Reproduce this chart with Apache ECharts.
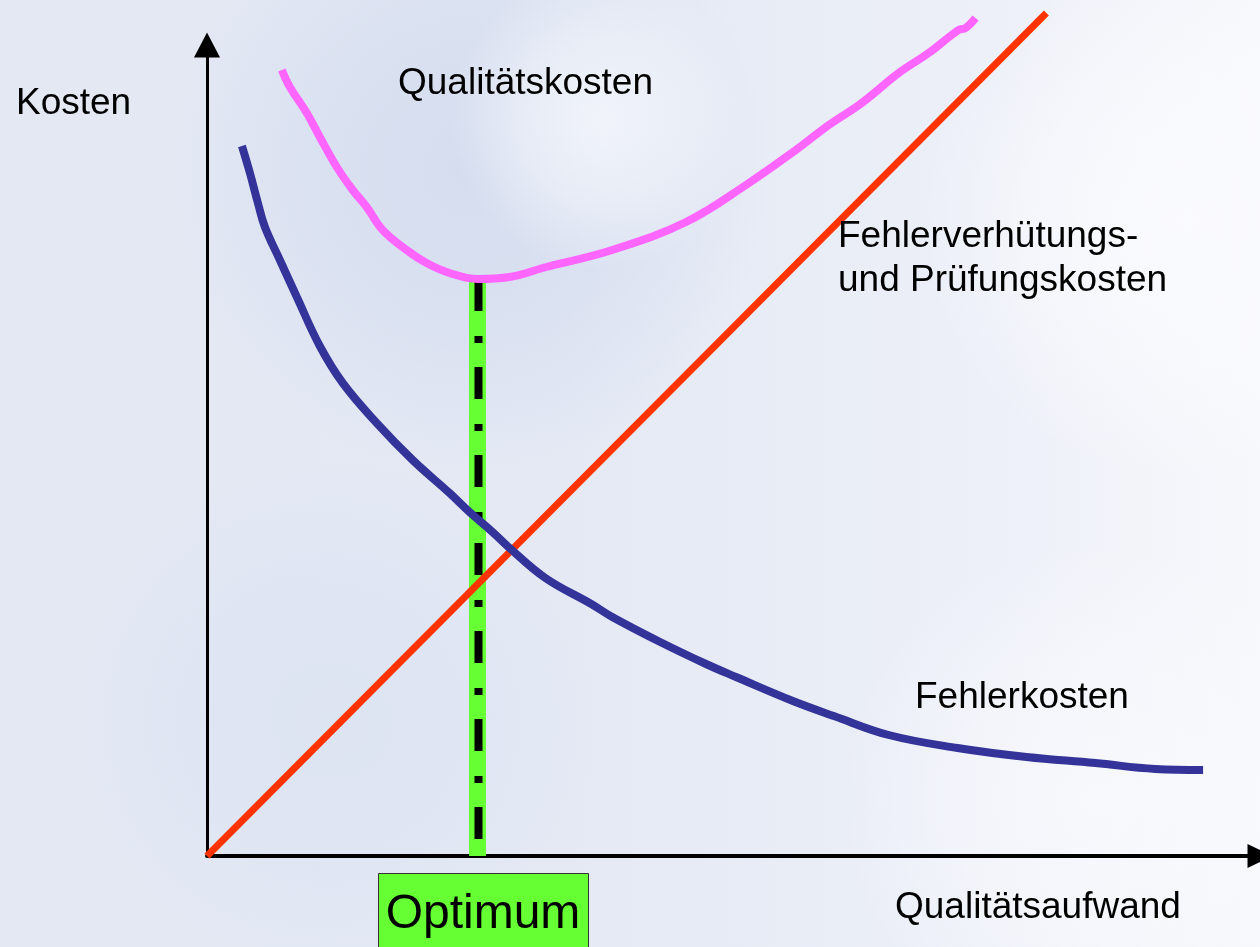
<!DOCTYPE html>
<html>
<head>
<meta charset="utf-8">
<title>Qualitätskosten</title>
<script src="https://cdn.jsdelivr.net/npm/echarts@6/dist/echarts.min.js"></script>
<style>
    html, body { margin: 0; padding: 0; }
    #main { width: 1260px; height: 947px; }
</style>
</head>
<body>
<div id="main"></div>
<script>
    // Qualitätsaufwand (x) / Kosten (y)
    var pruefKosten = [[0, 0], [84.1, 84.3]];

    var fehlerKosten = [
        [3.5, 71.0], [4.3, 68.3], [5.1, 65.3], [5.8, 62.9], [7.3, 59.6],
        [9.0, 55.9], [11.3, 51.0], [13.6, 47.3], [17.0, 43.3], [20.6, 39.6],
        [24.3, 36.3], [26.3, 34.4], [28.6, 32.4], [30.2, 30.9], [33.9, 27.8],
        [38.5, 25.2], [40.6, 23.9], [45.4, 21.4], [50.0, 19.2], [53.0, 17.9],
        [58.7, 15.5], [62.8, 14.0], [68.3, 12.1], [75.2, 10.8], [82.1, 9.9],
        [89.0, 9.3], [95.0, 8.7], [99.8, 8.6]
    ];

    var qualitaetsKosten = [
        [7.5, 78.6], [8.3, 76.9], [10.0, 74.3], [11.3, 71.9], [13.0, 68.9],
        [14.6, 66.6], [16.0, 64.9], [17.6, 62.6], [20.0, 60.6], [22.0, 59.3],
        [24.3, 58.3], [27.1, 57.7], [30.3, 57.9], [34.0, 58.9], [40.6, 60.6],
        [48.0, 63.4], [54.0, 67.1], [59.0, 70.6], [62.3, 73.1], [65.6, 75.3],
        [69.3, 78.3], [72.3, 80.3], [75.3, 82.6], [76.0, 82.8], [77.0, 83.8]
    ];

    var optimum = [27.1, 57.7];

    var font = '"Liberation Sans", Arial, sans-serif';

    var myChart = echarts.init(document.getElementById('main'));

    function label(text, x, y, size) {
        return {
            type: 'text',
            x: x,
            y: y,
            z: 20,
            style: {
                text: text,
                fill: '#000',
                fontSize: size || 37,
                fontFamily: font,
                textVerticalAlign: 'middle'
            }
        };
    }

    // soft blurred blob for the faded picture behind the chart
    function blob(cx, cy, r, color) {
        return {
            type: 'circle',
            z: -10,
            silent: true,
            shape: {cx: cx, cy: cy, r: r},
            style: {
                fill: new echarts.graphic.RadialGradient(0.5, 0.5, 0.5, [
                    {offset: 0, color: color},
                    {offset: 0.55, color: color.replace(/[\d.]+\)$/, function (a) { return (parseFloat(a) * 0.6) + ')'; })},
                    {offset: 1, color: color.replace(/[\d.]+\)$/, '0)')}
                ])
            }
        };
    }

    option = {
        animation: false,
        backgroundColor: new echarts.graphic.LinearGradient(0, 0, 1, 0, [
            {offset: 0, color: '#e3e8f3'},
            {offset: 0.45, color: '#e4e9f4'},
            {offset: 0.8, color: '#edf0f8'},
            {offset: 1, color: '#f7f8fc'}
        ]),
        grid: {
            left: 207,
            top: 45,
            width: 1055,
            height: 811
        },
        xAxis: {
            type: 'value',
            min: 0,
            max: 105.5,
            axisLine: {
                show: true,
                symbol: ['none', 'triangle'],
                symbolSize: [24, 25],
                lineStyle: {color: '#000', width: 4}
            },
            axisTick: {show: false},
            axisLabel: {show: false},
            splitLine: {show: false}
        },
        yAxis: {
            type: 'value',
            min: 0,
            max: 81.1,
            axisLine: {
                show: true,
                symbol: ['none', 'triangle'],
                symbolSize: [26, 25],
                lineStyle: {color: '#000', width: 3}
            },
            axisTick: {show: false},
            axisLabel: {show: false},
            splitLine: {show: false}
        },
        graphic: [
            blob(470, 170, 300, 'rgba(200,211,235,0.55)'),
            blob(600, 120, 150, 'rgba(246,248,252,0.8)'),
            blob(1180, 220, 260, 'rgba(252,252,255,0.8)'),
            blob(1100, 800, 260, 'rgba(250,251,254,0.7)'),
            blob(330, 720, 260, 'rgba(214,223,240,0.5)'),
            label('Kosten', 16, 104),
            label('Qualitätskosten', 398, 84),
            label('Fehlerverhütungs-', 838, 237),
            label('und Prüfungskosten', 838, 281),
            label('Fehlerkosten', 915, 698),
            label('Qualitätsaufwand', 895, 908),
            {
                type: 'rect',
                z: 20,
                shape: {x: 378.5, y: 873.5, width: 210, height: 80},
                style: {fill: '#66ff33', stroke: '#333', lineWidth: 1}
            },
            {
                type: 'text',
                x: 483,
                y: 915,
                z: 21,
                style: {
                    text: 'Optimum',
                    fill: '#000',
                    fontSize: 48,
                    fontFamily: font,
                    textAlign: 'center',
                    textVerticalAlign: 'middle'
                }
            }
        ],
        series: [
            {
                name: 'Optimum',
                type: 'line',
                data: [[optimum[0], 0], [optimum[0], optimum[1]]],
                symbol: 'none',
                clip: false,
                lineStyle: {color: '#66ff33', width: 17, cap: 'butt'}
            },
            {
                name: 'Optimum Linie',
                type: 'line',
                // from top to bottom so the dash pattern starts at the curve
                data: [[optimum[0] + 0.1, optimum[1]], [optimum[0] + 0.1, 0]],
                symbol: 'none',
                clip: false,
                lineStyle: {color: '#000', width: 8, type: [32, 25, 7, 24], cap: 'butt'}
            },
            {
                name: 'Fehlerverhütungs- und Prüfungskosten',
                type: 'line',
                data: pruefKosten,
                symbol: 'none',
                clip: false,
                lineStyle: {color: '#ff3300', width: 7}
            },
            {
                name: 'Fehlerkosten',
                type: 'line',
                data: fehlerKosten,
                smooth: 0.4,
                symbol: 'none',
                clip: false,
                lineStyle: {color: '#333399', width: 8}
            },
            {
                name: 'Qualitätskosten',
                type: 'line',
                data: qualitaetsKosten,
                smooth: 0.4,
                symbol: 'none',
                clip: false,
                lineStyle: {color: '#ff66ff', width: 8}
            }
        ]
    };

    myChart.setOption(option);
</script>
</body>
</html>
